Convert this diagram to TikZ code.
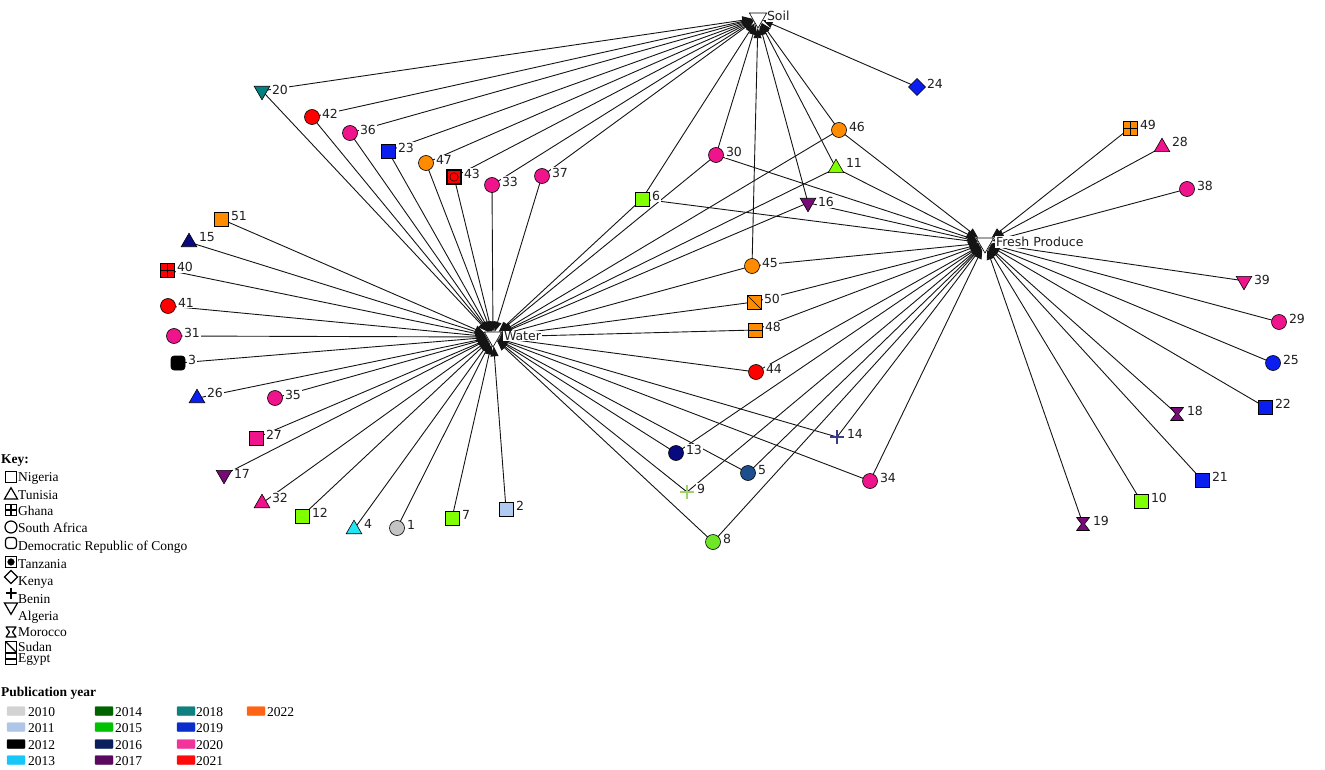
\documentclass[tikz,border=0pt]{standalone}
\usepackage{fontspec}
\setmainfont{Liberation Serif}
\newfontfamily\dvs{DejaVu Sans}
\usetikzlibrary{shapes.geometric,arrows.meta}
\pgfdeclarelayer{bg}\pgfdeclarelayer{lab}
\pgfsetlayers{bg,lab,main}
\definecolor{cpink}{HTML}{F0148C}
\definecolor{cred}{HTML}{FF0000}
\definecolor{corange}{HTML}{FF8C00}
\definecolor{cblue}{HTML}{0A1EF0}
\definecolor{cteal}{HTML}{008080}
\definecolor{cnavy}{HTML}{0A0A80}
\definecolor{cdblue}{HTML}{1F4E8F}
\definecolor{cpurple}{HTML}{780A78}
\definecolor{cgreen}{HTML}{80FF00}
\definecolor{cgreeneight}{HTML}{70E628}
\definecolor{cplusnine}{HTML}{9CD36A}
\definecolor{cplusfourteen}{HTML}{3A3A8C}
\definecolor{cgray}{HTML}{C4C4C4}
\definecolor{clblue}{HTML}{AFCBF2}
\definecolor{ccyan}{HTML}{22E4F4}
\definecolor{yA}{HTML}{D3D3D3}
\definecolor{yB}{HTML}{AFC6E9}
\definecolor{yC}{HTML}{000000}
\definecolor{yD}{HTML}{18C6F8}
\definecolor{yE}{HTML}{006400}
\definecolor{yF}{HTML}{00C200}
\definecolor{yG}{HTML}{0A1F5C}
\definecolor{yH}{HTML}{5A0860}
\definecolor{yI}{HTML}{0F7F7F}
\definecolor{yJ}{HTML}{0A2ECC}
\definecolor{yK}{HTML}{F0349C}
\definecolor{yL}{HTML}{FF0A0A}
\definecolor{yM}{HTML}{FF6414}
\def\nsz{14pt}\def\csz{15pt}\def\tsz{18pt}\def\dsz{17pt}\def\lw{0.6pt}
\tikzset{
  shp/.style={draw=black, line width=\lw, inner sep=0pt, outer sep=0pt},
  sq/.style={shp, rectangle, minimum size=\nsz, fill=#1},
  rsq/.style={sq=#1, rounded corners=3pt},
  ci/.style={shp, circle, minimum size=\csz, fill=#1},
  utri/.style={shp, regular polygon, regular polygon sides=3, minimum size=\tsz, fill=#1, yshift=-2.2pt},
  dtri/.style={shp, regular polygon, regular polygon sides=3, minimum size=\tsz, fill=#1, shape border rotate=180, yshift=2.2pt},
  dia/.style={shp, diamond, minimum size=\dsz, fill=#1},
  ghana/.style={sq=#1, path picture={\draw[line width=\lw] (path picture bounding box.north) -- (path picture bounding box.south) (path picture bounding box.west) -- (path picture bounding box.east);}},
  sudan/.style={sq=#1, path picture={\draw[line width=\lw] (path picture bounding box.north west) -- (path picture bounding box.south east);}},
  egypt/.style={sq=#1, path picture={\draw[line width=\lw] (path picture bounding box.west) -- (path picture bounding box.east);}},
  tanz/.style 2 args={sq=#1, line width=1.4pt, path picture={\filldraw[fill=#2, draw=black, line width=0.5pt] (path picture bounding box.center) circle[radius=0.3*\nsz];}},
  benin/.style={rectangle, inner sep=0pt, minimum size=\nsz, path picture={\draw[#1, line width=1.2pt] (path picture bounding box.north) -- (path picture bounding box.south) (path picture bounding box.west) -- (path picture bounding box.east);}},
  morocco/.style={rectangle, inner sep=0pt, minimum size=\nsz, path picture={\filldraw[fill=#1, draw=black, line width=\lw, line join=round]
     ([shift={(0.5pt,-0.5pt)}]path picture bounding box.north west) -- ([shift={(-0.5pt,-0.5pt)}]path picture bounding box.north east) -- ([shift={(1.5pt,0pt)}]path picture bounding box.center) -- ([shift={(-0.5pt,0.5pt)}]path picture bounding box.south east) -- ([shift={(0.5pt,0.5pt)}]path picture bounding box.south west) -- ([shift={(-1.5pt,0pt)}]path picture bounding box.center) -- cycle;}},
  hub/.style={draw=black, line width=0.6pt, fill=white, regular polygon, regular polygon sides=3, shape border rotate=180, minimum size=20pt, inner sep=0pt},
  edge/.style={line width=0.9pt, draw=black!92, -{Triangle[length=10pt,width=8pt]}},
  lbl/.style={font=\dvs\fontsize{12.5}{12.5}\selectfont, fill=white, inner sep=0.8pt, anchor=west, text=black!88},
  ktxt/.style={font=\fontsize{13.5}{13.5}\selectfont, anchor=west, inner sep=0pt},
  ktitle/.style={font=\bfseries\fontsize{13.5}{13.5}\selectfont, anchor=west, inner sep=0pt},
  swatch/.style={rectangle, draw=#1, fill=#1, minimum width=18pt, minimum height=9pt, inner sep=0pt, rounded corners=1pt}
}
\newcommand\mkn[4]{\node[#4] (n#1) at (#2,#3) {};
  \begin{pgfonlayer}{lab}\node[lbl] (l#1) at ({#2+9},{#3-3}) {#1};\end{pgfonlayer}}
\begin{document}
\begin{tikzpicture}[x=1pt,y=-1pt]
\useasboundingbox (0,0) rectangle (1325,770);
% hubs
\node[hub] (soil) at (758,18) {};
\node[hub] (water) at (493,337) {};
\node[hub] (fp) at (985,243) {};
\begin{pgfonlayer}{lab}
\node[lbl] (lsoil) at (766,16) {Soil};
\node[lbl] (lwater) at (503,336) {Water};
\node[lbl] (lfp) at (995,242) {Fresh Produce};
\end{pgfonlayer}
% study nodes
\mkn{20}{262}{93}{dtri=cteal}
\mkn{42}{312}{117}{ci=cred}
\mkn{36}{350}{133}{ci=cpink}
\mkn{23}{388}{151}{sq=cblue}
\mkn{47}{426}{163}{ci=corange}
\mkn{43}{454}{177}{tanz={cred}{cred}}
\mkn{33}{492}{185}{ci=cpink}
\mkn{37}{542}{176}{ci=cpink}
\mkn{51}{221}{219}{sq=corange}
\mkn{15}{189}{240}{utri=cnavy}
\mkn{40}{167}{270}{ghana=cred}
\mkn{41}{168}{306}{ci=cred}
\mkn{31}{174}{336}{ci=cpink}
\mkn{3}{178}{363}{rsq=black}
\mkn{26}{197}{396}{utri=cblue}
\mkn{35}{275}{398}{ci=cpink}
\mkn{27}{256}{438}{sq=cpink}
\mkn{17}{224}{477}{dtri=cpurple}
\mkn{32}{262}{501}{utri=cpink}
\mkn{12}{302}{516}{sq=cgreen}
\mkn{4}{354}{527}{utri=ccyan}
\mkn{1}{397}{528}{ci=cgray}
\mkn{7}{452}{518}{sq=cgreen}
\mkn{2}{506}{509}{sq=clblue}
\mkn{6}{642}{199}{sq=cgreen}
\mkn{30}{716}{155}{ci=cpink}
\mkn{46}{839}{130}{ci=corange}
\mkn{11}{836}{166}{utri=cgreen}
\mkn{16}{808}{205}{dtri=cpurple}
\mkn{45}{752}{266}{ci=corange}
\mkn{50}{754}{302}{sudan=corange}
\mkn{48}{755}{330}{egypt=corange}
\mkn{44}{756}{372}{ci=cred}
\mkn{13}{676}{453}{ci=cnavy}
\mkn{5}{748}{473}{ci=cdblue}
\mkn{14}{837}{437}{benin=cplusfourteen}
\mkn{9}{687}{492}{benin=cplusnine}
\mkn{34}{870}{481}{ci=cpink}
\mkn{8}{713}{542}{ci=cgreeneight}
\mkn{24}{917}{87}{dia=cblue}
\mkn{49}{1130}{128}{ghana=corange}
\mkn{28}{1162}{145}{utri=cpink}
\mkn{38}{1187}{189}{ci=cpink}
\mkn{39}{1244}{283}{dtri=cpink}
\mkn{29}{1279}{322}{ci=cpink}
\mkn{25}{1273}{363}{ci=cblue}
\mkn{22}{1265}{407}{sq=cblue}
\mkn{18}{1177}{414}{morocco=cpurple}
\mkn{21}{1202}{480}{sq=cblue}
\mkn{10}{1141}{501}{sq=cgreen}
\mkn{19}{1083}{524}{morocco=cpurple}
% edges
\begin{pgfonlayer}{bg}
\foreach \a in {20,42,36,23,47,43,33,37,6,30,45,16,11,46,24}
  \draw[edge] (n\a.center) -- (soil);
\foreach \a in {20,42,36,23,47,43,33,37,51,15,40,41,31,3,26,35,27,17,32,12,4,1,7,2,6,30,46,11,16,45,50,48,44,13,5,9,14,34,8}
  \draw[edge] (n\a.center) -- (water);
\foreach \a in {6,30,46,11,16,45,50,48,44,13,5,9,14,34,8,49,28,38,39,29,25,22,18,21,10,19}
  \draw[edge] (n\a.center) -- (fp);
\end{pgfonlayer}
% key legend
\node[ktitle] (keyt) at (1,461) {Key:};
\begin{scope}
\def\nsz{11pt}\def\csz{12pt}\def\tsz{15pt}\def\dsz{13pt}\def\lw{1.2pt}
\node[sq=white] (kNg) at (11,477) {};
\node[utri=white] (kTn) at (11,493) {};
\node[ghana=white] (kGh) at (11,510) {};
\node[ci=white] (kSa) at (11,527) {};
\node[rsq=white] (kDrc) at (11,543) {};
\node[tanz={white}{black}] (kTz) at (11,562) {};
\node[dia=white] (kKe) at (11,577) {};
\node[benin=black, line width=0.6pt] (kBj) at (11,593) {};
\node[dtri=white] (kDz) at (11,609) {};
\node[morocco=white] (kMa) at (11,632) {};
\node[sudan=white] (kSd) at (11,647) {};
\node[egypt=white] (kEg) at (11,659) {};
\end{scope}
\node[ktxt] (tNg) at (18,478) {Nigeria};
\node[ktxt] (tTn) at (18,495) {Tunisia};
\node[ktxt] (tGh) at (18,511) {Ghana};
\node[ktxt] (tSa) at (18,528) {South Africa};
\node[ktxt] (tDrc) at (18,547) {Democratic Republic of Congo};
\node[ktxt] (tTz) at (18,564) {Tanzania};
\node[ktxt] (tKe) at (18,583) {Kenya};
\node[ktxt] (tBj) at (18,599) {Benin};
\node[ktxt] (tDz) at (18,617) {Algeria};
\node[ktxt] (tMa) at (18,632) {Morocco};
\node[ktxt] (tSd) at (18,647) {Sudan};
\node[ktxt] (tEg) at (18,660) {Egypt};
% publication year legend
\node[ktitle] (pubt) at (1,693) {Publication year};
\node[swatch=yA] (s2010) at (16,711) {}; \node[ktxt] (t2010) at (28,712) {2010};
\node[swatch=yB] (s2011) at (16,727) {}; \node[ktxt] (t2011) at (28,728) {2011};
\node[swatch=yC] (s2012) at (16,744) {}; \node[ktxt] (t2012) at (28,745) {2012};
\node[swatch=yD] (s2013) at (16,760) {}; \node[ktxt] (t2013) at (28,761) {2013};
\node[swatch=yE] (s2014) at (104,711) {}; \node[ktxt] (t2014) at (115,712) {2014};
\node[swatch=yF] (s2015) at (104,727) {}; \node[ktxt] (t2015) at (115,728) {2015};
\node[swatch=yG] (s2016) at (104,744) {}; \node[ktxt] (t2016) at (115,745) {2016};
\node[swatch=yH] (s2017) at (104,760) {}; \node[ktxt] (t2017) at (115,761) {2017};
\node[swatch=yI] (s2018) at (186,711) {}; \node[ktxt] (t2018) at (196,712) {2018};
\node[swatch=yJ] (s2019) at (186,727) {}; \node[ktxt] (t2019) at (196,728) {2019};
\node[swatch=yK] (s2020) at (186,744) {}; \node[ktxt] (t2020) at (196,745) {2020};
\node[swatch=yL] (s2021) at (186,760) {}; \node[ktxt] (t2021) at (196,761) {2021};
\node[swatch=yM] (s2022) at (256,711) {}; \node[ktxt] (t2022) at (267,712) {2022};
\end{tikzpicture}
\end{document}
